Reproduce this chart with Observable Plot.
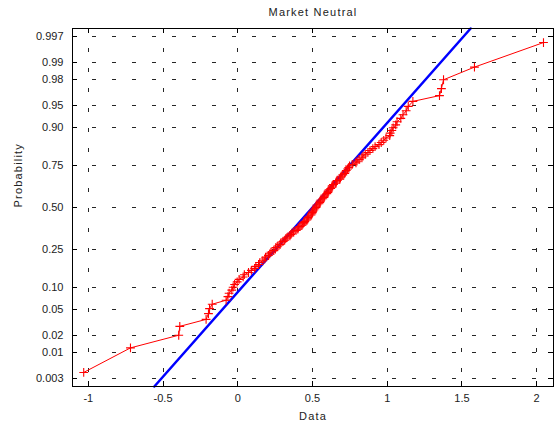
<!DOCTYPE html>
<html>
<head>
<meta charset="utf-8">
<script src="https://cdn.jsdelivr.net/npm/d3@7"></script>
<script src="https://cdn.jsdelivr.net/npm/@observablehq/plot@0.6"></script>
<style>
  body { margin: 0; background: #fff; }
  #chart svg { display: block; }
</style>
</head>
<body>
<div id="chart"></div>
<script>
// ---- Data ----
const title = "Market Neutral";
const xLabel = "Data";
const yLabel = "Probability";
const xTicks = [-1, -0.5, 0, 0.5, 1, 1.5, 2];
const xTickLabels = ["-1", "-0.5", "0", "0.5", "1", "1.5", "2"];
const probTicks = [0.003, 0.01, 0.02, 0.05, 0.10, 0.25, 0.50, 0.75, 0.90, 0.95, 0.98, 0.99, 0.997];
const probTickLabels = ["0.003", "0.01", "0.02", "0.05", "0.10", "0.25", "0.50", "0.75", "0.90", "0.95", "0.98", "0.99", "0.997"];
// sorted sample values (125 observations)
const returns = [
  -1.031, -0.718, -0.395, -0.388, -0.212, -0.196, -0.189, -0.171, -0.078, -0.066,
  -0.058, -0.040, -0.031, -0.021, -0.004, 0.009, 0.036, 0.044, 0.072, 0.091,
  0.113, 0.121, 0.139, 0.147, 0.168, 0.181, 0.186, 0.205, 0.214, 0.222,
  0.241, 0.252, 0.255, 0.268, 0.283, 0.288, 0.302, 0.314, 0.321, 0.330,
  0.349, 0.355, 0.361, 0.372, 0.390, 0.402, 0.405, 0.416, 0.430, 0.437,
  0.443, 0.449, 0.462, 0.468, 0.470, 0.476, 0.490, 0.496, 0.499, 0.503,
  0.509, 0.516, 0.524, 0.526, 0.530, 0.543, 0.549, 0.551, 0.557, 0.569,
  0.577, 0.579, 0.584, 0.596, 0.603, 0.605, 0.611, 0.622, 0.630, 0.632,
  0.640, 0.656, 0.659, 0.665, 0.683, 0.687, 0.692, 0.703, 0.716, 0.719,
  0.726, 0.735, 0.743, 0.748, 0.766, 0.791, 0.798, 0.812, 0.831, 0.838,
  0.853, 0.871, 0.885, 0.904, 0.919, 0.945, 0.960, 0.977, 0.992, 1.017,
  1.020, 1.031, 1.040, 1.057, 1.066, 1.091, 1.106, 1.127, 1.141, 1.172,
  1.350, 1.363, 1.377, 1.584, 2.046
];

// ---- inverse normal CDF (probability scale transform) ----
function norminv(p) {
  const a = [-3.969683028665376e+01, 2.209460984245205e+02, -2.759285104469687e+02, 1.383577518672690e+02, -3.066479806614716e+01, 2.506628277459239e+00];
  const b = [-5.447609879822406e+01, 1.615858368580409e+02, -1.556989798598866e+02, 6.680131188771972e+01, -1.328068155288572e+01];
  const c = [-7.784894002430293e-03, -3.223964580411365e-01, -2.400758277161838e+00, -2.549671750411476e+00, 4.374664141464968e+00, 2.938163982698783e+00];
  const d = [7.784695709041462e-03, 3.224671290700398e-01, 2.445134137142996e+00, 3.754408661907416e+00];
  const pl = 0.02425, ph = 1 - pl;
  if (p < pl) {
    const q = Math.sqrt(-2 * Math.log(p));
    return (((((c[0]*q+c[1])*q+c[2])*q+c[3])*q+c[4])*q+c[5]) / ((((d[0]*q+d[1])*q+d[2])*q+d[3])*q+1);
  }
  if (p <= ph) {
    const q = p - 0.5, r = q * q;
    return (((((a[0]*r+a[1])*r+a[2])*r+a[3])*r+a[4])*r+a[5])*q / (((((b[0]*r+b[1])*r+b[2])*r+b[3])*r+b[4])*r+1);
  }
  const q = Math.sqrt(-2 * Math.log(1 - p));
  return -(((((c[0]*q+c[1])*q+c[2])*q+c[3])*q+c[4])*q+c[5]) / ((((d[0]*q+d[1])*q+d[2])*q+d[3])*q+1);
}

const n = returns.length;
const points = returns.map((v, i) => ({x: v, z: norminv((i + 0.5) / n)}));
const zMax = -norminv(0.25 / n);
const probZ = probTicks.map(norminv);
const labelOf = new Map(probZ.map((z, i) => [z, probTickLabels[i]]));
const xLabelOf = new Map(xTicks.map((t, i) => [t, xTickLabels[i]]));

// reference line through the quartiles (as normplot does)
const q1 = d3.quantile(returns, 0.25), q3 = d3.quantile(returns, 0.75);
const sigma = (q3 - q1) / (2 * norminv(0.75)), mu = (q1 + q3) / 2;
const fit = [-zMax, zMax].map(z => ({z, x: mu + sigma * z}));

const W = 554, H = 426, mL = 72, mR = 1, mT = 28, mB = 40;
const plotW = W - mL - mR, plotH = H - mT - mB;

const plusSymbol = {
  draw(ctx, size) {
    const r = Math.sqrt(size / Math.PI);
    ctx.moveTo(-r, 0); ctx.lineTo(r, 0);
    ctx.moveTo(0, -r); ctx.lineTo(0, r);
  }
};

const gridStyle = {stroke: "#000", strokeOpacity: 0.85, strokeWidth: 1, strokeDasharray: "4,16", shapeRendering: "crispEdges"};

const chart = Plot.plot({
  width: W, height: H,
  marginLeft: mL, marginRight: mR, marginTop: mT, marginBottom: mB,
  style: {fontFamily: "'Liberation Sans', Arial, sans-serif", fontSize: "11px", color: "#000", background: "#fff", overflow: "visible"},
  x: {domain: [-1.106, 2.113], axis: null},
  y: {domain: [-zMax, zMax], axis: null},
  marks: [
    Plot.ruleY(probZ, {y: d => d, ...gridStyle}),
    Plot.ruleX(xTicks, {x: d => d, ...gridStyle}),
    Plot.line(fit, {x: "x", y: "z", stroke: "#0000ff", strokeWidth: 2.5}),
    Plot.line(points, {x: "x", y: "z", stroke: "#ff0000", strokeWidth: 1}),
    Plot.dot(points, {x: "x", y: "z", symbol: plusSymbol, r: 4.4, stroke: "#ff0000", strokeWidth: 1.1, fill: "none"}),
    // inward tick marks on all four sides
    Plot.tickY(probZ, {y: d => d, insetRight: plotW - 5, stroke: "#000", shapeRendering: "crispEdges"}),
    Plot.tickY(probZ, {y: d => d, insetLeft: plotW - 5, stroke: "#000", shapeRendering: "crispEdges"}),
    Plot.tickX(xTicks, {x: d => d, insetTop: plotH - 5, stroke: "#000", shapeRendering: "crispEdges"}),
    Plot.tickX(xTicks, {x: d => d, insetBottom: plotH - 5, stroke: "#000", shapeRendering: "crispEdges"}),
    Plot.frame({stroke: "#000", strokeWidth: 1}),
    Plot.axisX(xTicks, {tickSize: 0, tickPadding: 8, label: null, tickFormat: d => xLabelOf.get(d), fill: "#222"}),
    Plot.axisY(probZ, {tickSize: 0, tickPadding: 9, label: null, tickFormat: d => labelOf.get(d), fill: "#222"}),
    Plot.text([title], {frameAnchor: "top", dy: -16, lineAnchor: "middle", fill: "#222"}),
    Plot.text([xLabel], {frameAnchor: "bottom", dy: 29.5, lineAnchor: "middle", fill: "#222"}),
    Plot.text([yLabel], {frameAnchor: "left", dx: -54, rotate: -90, lineAnchor: "middle", fill: "#222"})
  ]
});
document.getElementById("chart").appendChild(chart);
// letter-spacing for title and axis labels
d3.select(chart).selectAll("text").filter(function () {
  const t = this.textContent;
  return t === title || t === xLabel || t === yLabel;
}).style("letter-spacing", "1.2px");
</script>
</body>
</html>
